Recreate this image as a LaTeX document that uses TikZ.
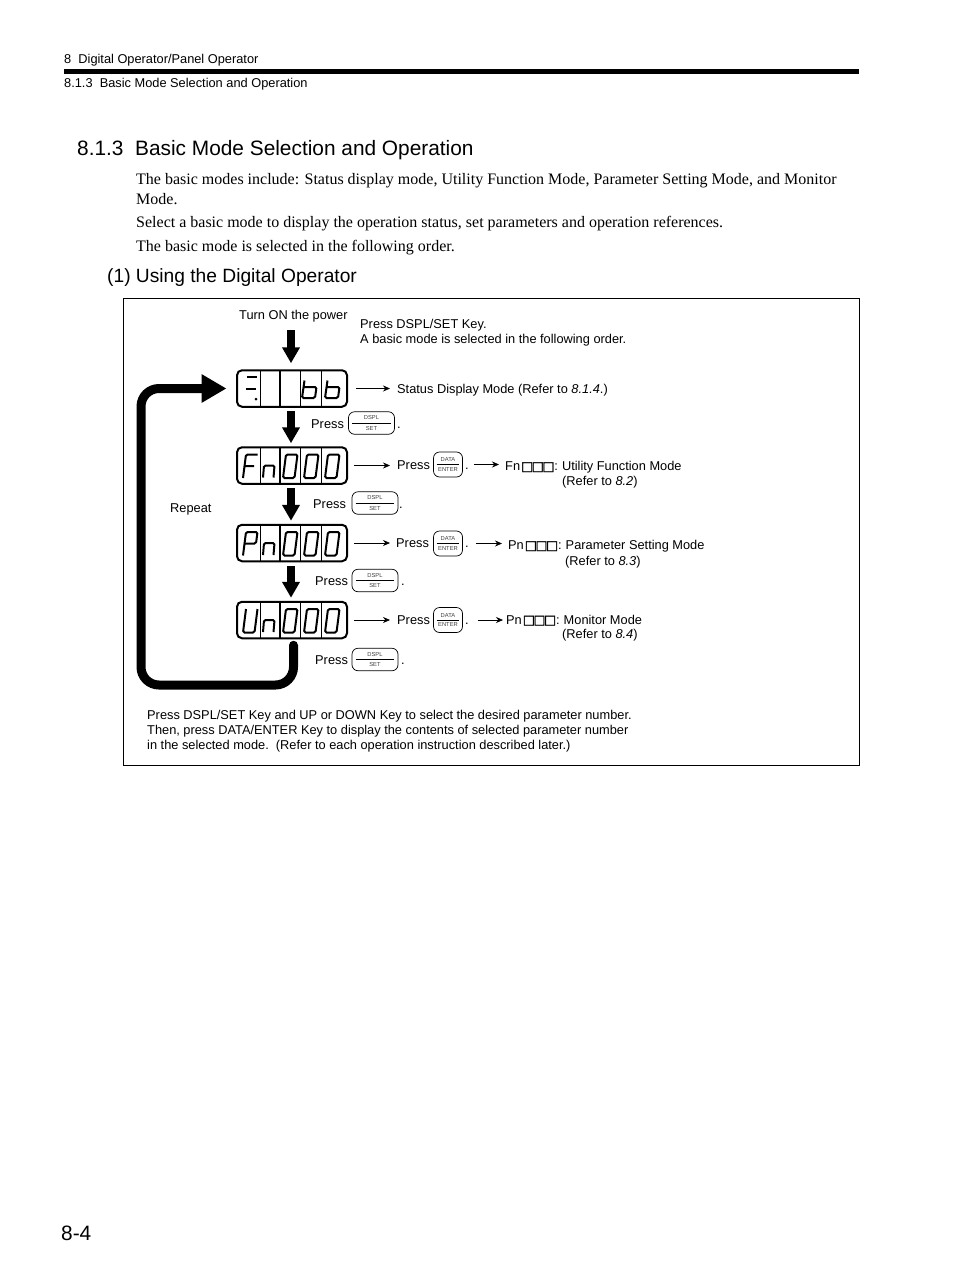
\documentclass[tikz,border=0pt]{standalone}
\usepackage{fontspec}
\setmainfont{Liberation Sans}
\newfontfamily\serifbody{Liberation Serif}
\newfontfamily\symfont[FakeBold=1.5]{DejaVu Sans}
\usepackage{xcolor}
\usetikzlibrary{arrows.meta, positioning, calc}
\newcommand{\sizept}[1]{\fontsize{#1}{#1}\selectfont}
\newcommand{\sqs}{\kern1pt{\symfont\char"25A1\kern-1.5pt\char"25A1\kern-1.5pt\char"25A1}}
\tikzset{
  lbl/.style={anchor=west, inner sep=0pt, yshift=-0.5pt, font=\sizept{12.8}},
  bodytxt/.style={anchor=west, inner sep=0pt, yshift=-1.2pt, font=\serifbody\sizept{16}},
  hdrtxt/.style={anchor=west, inner sep=0pt, yshift=-1.2pt, font=\sizept{12.8}},
  headtxt/.style={anchor=west, inner sep=0pt, yshift=-2pt},
  dispbox/.style={draw, rounded corners=5pt, line width=2pt, minimum width=110pt, minimum height=36.5pt, inner sep=0pt},
  divline/.style={line width=1.2pt},
  segline/.style={line width=2pt, rounded corners=1.5pt},
  keybox/.style={draw, rounded corners=6pt, line width=0.7pt, inner sep=0pt},
  keytxt/.style={inner sep=0pt, font=\sizept{5.8}, text=black!75},
  thinarrow/.style={-{Stealth[length=7pt,width=6pt]}, line width=0.7pt},
  bigarrow/.style={-{Triangle[length=16pt,width=17pt]}, line width=8pt},
  looparrow/.style={-{Triangle[length=25pt,width=27pt]}, line width=9pt, line cap=round, rounded corners=18pt}
}
% one display: box and the lines between the digits
\newcommand{\display}[2]{
  \node[dispbox] (#1) at (292,#2) {};
  \foreach \x in {260.7,280,300.7,321.7}
    \draw[divline] (\x,#2-18) -- (\x,#2+18);
}
\newcommand{\dsplkey}[3]{
  \node[keybox, minimum width=46pt, minimum height=22.5pt] (#1) at (#2,#3) {};
  \draw[line width=0.6pt] ([xshift=4pt]#1.west) -- ([xshift=-4pt]#1.east);
  \node[keytxt] (#1a) at ([yshift=5.5pt]#1.center) {DSPL};
  \node[keytxt] (#1b) at ([yshift=-5pt]#1.center) {SET};
}
\newcommand{\datakey}[3]{
  \node[keybox, minimum width=29pt, minimum height=25pt] (#1) at (#2,#3) {};
  \draw[line width=0.6pt] ([xshift=3.5pt]#1.west) -- ([xshift=-3.5pt]#1.east);
  \node[keytxt] (#1a) at ([yshift=5pt]#1.center) {DATA};
  \node[keytxt] (#1b) at ([yshift=-4.5pt]#1.center) {ENTER};
}
% segments, top left corner of the digit at #1,#2
\newcommand{\digF}[2]{\draw[segline,shift={(#1,#2)}] (14.5,0) -- (3,0) -- (0,23.5) (1.5,11.5) -- (11,11.5);}
\newcommand{\digP}[2]{\draw[segline,shift={(#1,#2)}] (0,23.5) -- (3,0) -- (14.5,0) -- (13,11.5) -- (1.5,11.5);}
\newcommand{\digU}[2]{\draw[segline,shift={(#1,#2)}] (3,0) -- (0,23.5) -- (11.5,23.5) -- (14.5,0);}
\newcommand{\digN}[2]{\draw[segline,shift={(#1,#2)}] (0,12) -- (1,0) -- (11.5,0) -- (10.5,12);}
\newcommand{\digO}[2]{\draw[segline,shift={(#1,#2)}] (3,0) -- (14.5,0) -- (11.5,23.5) -- (0,23.5) -- cycle;}
\newcommand{\digB}[2]{\draw[segline,shift={(#1,#2)}] (2.5,0) -- (0,17.5) -- (13,17.5) -- (14.5,6.5) -- (1.5,6.5);}
\begin{document}
\begin{tikzpicture}[x=1pt,y=-1pt]
  \useasboundingbox (0,0) rectangle (954,1274);
  \fill[white] (0,0) rectangle (954,1274);

  % page head
  \node[hdrtxt] (head1) at (64,58.5) {8\ \ Digital Operator/Panel Operator};
  \fill (64,69) rectangle (859,74);
  \node[hdrtxt] (head2) at (64,83) {8.1.3\ \ Basic Mode Selection and Operation};
  \node[headtxt,font=\sizept{20.85}] (title) at (77,148.5) {8.1.3\ \ Basic Mode Selection and Operation};
  \node[bodytxt] (body1) at (136,179.5) {The basic modes include: Status display mode, Utility Function Mode, Parameter Setting Mode, and Monitor};
  \node[bodytxt] (body2) at (136,197.5) {Mode.};
  \node[bodytxt] (body3) at (136,222.5) {Select a basic mode to display the operation status, set parameters and operation references.};
  \node[bodytxt] (body4) at (136,246.5) {The basic mode is selected in the following order.};
  \node[headtxt,font=\sizept{19.2}] (sub) at (107,275.5) {(1) Using the Digital Operator};
  \node[headtxt,font=\sizept{20.85}] (pageno) at (61,1231) {8-4};

  \draw[line width=0.9pt] (123.5,298) rectangle (859,765.5);

  \node[lbl] (power) at (239,315.7) {Turn ON the power};
  \node[lbl] (intro1) at (360,324.2) {Press DSPL/SET Key.};
  \node[lbl] (intro2) at (360,339.2) {A basic mode is selected in the following order.};
  \node[lbl] (repeat) at (170,508.5) {Repeat};

  % displays
  \display{disp1}{388.5}
  \display{disp2}{465.5}
  \display{disp3}{543}
  \display{disp4}{620}

  \draw[segline] (247,377) -- (257,377) (246,388.5) -- (256,388.5);
  \fill (256,399) circle (1.5);
  \digB{302}{380.5} \digB{325}{380.5}
  \digF{243}{454.5} \digN{263}{465.5} \digO{283}{454.5} \digO{304}{454.5} \digO{325}{454.5}
  \digP{243}{532} \digN{263}{543} \digO{283}{532} \digO{304}{532} \digO{325}{532}
  \digU{243}{609} \digN{263}{620} \digO{283}{609} \digO{304}{609} \digO{325}{609}

  % big arrows
  \draw[bigarrow,shorten >=6pt] (291,330) -- (disp1.north -| 291,0);
  \draw[bigarrow,shorten <=3pt,shorten >=3pt] ([xshift=-1pt]disp1.south) -- ([xshift=-1pt]disp2.north);
  \draw[bigarrow,shorten <=3pt,shorten >=3pt] ([xshift=-1pt]disp2.south) -- ([xshift=-1pt]disp3.north);
  \draw[bigarrow,shorten <=3.5pt,shorten >=3pt] ([xshift=-1pt]disp3.south) -- ([xshift=-1pt]disp4.north);
  \coordinate (loopa) at (293.5,685);
  \coordinate (loopb) at (141,685);
  \coordinate (loopc) at (141,388.5);
  \draw[looparrow,shorten <=6pt,shorten >=9.5pt] ([xshift=1.5pt]disp4.south) -- (loopa) -- (loopb) -- (loopc) -- (disp1.west);

  % first column of keys
  \node[lbl] (pr1) at (311,423.5) {Press};
  \dsplkey{key1}{371.5}{423}
  \node[lbl] (dot1) at (397,423.5) {\vphantom{P}.};
  \node[lbl] (pr2) at (313,503.5) {Press};
  \dsplkey{key2}{375}{503}
  \node[lbl] (dot2) at (399,503.5) {\vphantom{P}.};
  \node[lbl] (pr3) at (315,580.5) {Press};
  \dsplkey{key3}{375}{580.5}
  \node[lbl] (dot3) at (401,580.5) {\vphantom{P}.};
  \node[lbl] (pr4) at (315,659.5) {Press};
  \dsplkey{key4}{375}{659.5}
  \node[lbl] (dot4) at (401,659.5) {\vphantom{P}.};

  % second column
  \node[lbl] (status) at (397,389.5) {Status Display Mode (Refer to \textit{8.1.4}.)};
  \node[lbl] (pe1) at (397,465) {Press};
  \datakey{dat1}{448}{464.5}
  \node[lbl] (de1) at (465,465) {\vphantom{P}.};
  \node[lbl] (pe2) at (396,542.5) {Press};
  \datakey{dat2}{448}{543.5}
  \node[lbl] (de2) at (465,542.5) {\vphantom{P}.};
  \node[lbl] (pe3) at (397,619.5) {Press};
  \datakey{dat3}{448}{620}
  \node[lbl] (de3) at (465,619.5) {\vphantom{P}.};

  % modes
  \node[lbl] (fn) at (505,466.7) {Fn\sqs:\kern0.5pt\ Utility Function Mode};
  \node[lbl] (fnref) at (562,481.7) {(Refer to \textit{8.2})};
  \node[lbl] (pn) at (508,545.7) {Pn\sqs:\kern0.5pt\ Parameter Setting Mode};
  \node[lbl] (pnref) at (565,561.7) {(Refer to \textit{8.3})};
  \node[lbl] (un) at (506,619.7) {Pn\sqs:\kern0.5pt\ Monitor Mode};
  \node[lbl] (unref) at (562,634.7) {(Refer to \textit{8.4})};

  % thin arrows
  \draw[thinarrow,shorten <=8pt,shorten >=7pt] (disp1.east) -- (disp1.east -| status.west);
  \draw[thinarrow,shorten <=6pt,shorten >=7pt] (disp2.east) -- (disp2.east -| pe1.west);
  \draw[thinarrow,shorten <=6pt,shorten >=6pt] (disp3.east) -- (disp3.east -| pe2.west);
  \draw[thinarrow,shorten <=6pt,shorten >=7pt] (disp4.east) -- (disp4.east -| pe3.west);
  \draw[thinarrow,shorten <=11pt,shorten >=6pt] (dat1.east) -- (dat1.east -| fn.west);
  \draw[thinarrow,shorten <=13pt,shorten >=6pt] (dat2.east) -- (dat2.east -| pn.west);
  \draw[thinarrow,shorten <=15pt,shorten >=3pt] (dat3.east) -- (dat3.east -| un.west);

  \node[lbl] (note1) at (147,716) {Press DSPL/SET Key and UP or DOWN Key to select the desired parameter number.};
  \node[lbl] (note2) at (147,731) {Then, press DATA/ENTER Key to display the contents of selected parameter number};
  \node[lbl] (note3) at (147,746) {in the selected mode.\ \ (Refer to each operation instruction described later.)};
\end{tikzpicture}
\end{document}
